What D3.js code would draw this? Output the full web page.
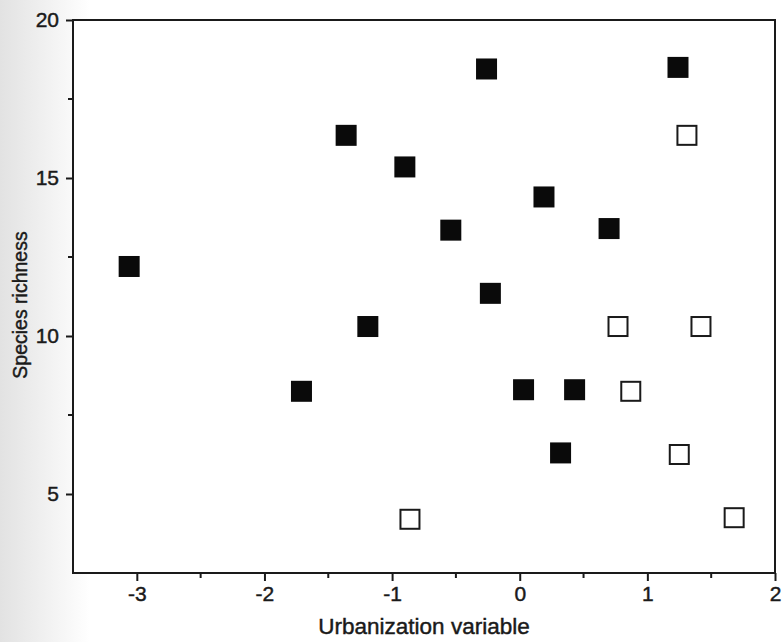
<!DOCTYPE html>
<html>
<head>
<meta charset="utf-8">
<script src="https://cdn.jsdelivr.net/npm/d3@7"></script>
<style>
  body { margin: 0; background: #fff; }
  text { font-family: "Liberation Sans", Arial, sans-serif; fill: #1a1a1a; stroke: #1a1a1a; stroke-width: 0.45px; }
</style>
</head>
<body>
<script>
// chart size
var svg_width = 784;
var svg_height = 642;

// filled squares
var filled_x = [-3.06, -1.71, -1.36, -1.19, -0.9, -0.54, -0.26, -0.23, 0.03, 0.19, 0.32, 0.43, 0.7, 1.24];
var filled_y = [12.2, 8.25, 16.35, 10.3, 15.35, 13.35, 18.45, 11.35, 8.3, 14.4, 6.3, 8.3, 13.4, 18.5];

// open squares
var open_x = [1.31, 0.77, 1.42, 0.87, 1.25, -0.86, 1.68];
var open_y = [16.35, 10.3, 10.3, 8.25, 6.25, 4.2, 4.25];

// tick values
var x_ticks = [-3, -2, -1, 0, 1, 2];
var x_minor = [-2.5, -1.5, -0.5, 0.5, 1.5];
var y_ticks = [5, 10, 15, 20];
var y_minor = [7.5, 12.5, 17.5];

var margin = { left: 73, right: 9, top: 20, bottom: 69 };

const svg = d3.select('body')
    .append('svg')
    .attr("width", svg_width)
    .attr("height", svg_height);

// grey shading of the scanned page on the left
const grad = svg.append('defs').append('linearGradient')
    .attr('id', 'shade').attr('x1', '0').attr('x2', '1');
grad.append('stop').attr('offset', '0').attr('stop-color', '#e2e2e2');
grad.append('stop').attr('offset', '1').attr('stop-color', '#ffffff');
svg.append('rect').attr('width', 90).attr('height', svg_height).attr('fill', 'url(#shade)');

const x = d3.scaleLinear().domain([-3.5, 2]).range([margin.left, svg_width - margin.right]);
const y = d3.scaleLinear().domain([2.5, 20]).range([svg_height - margin.bottom, margin.top]);

// plot area + frame
svg.append('rect')
    .attr('x', x(-3.5)).attr('y', y(20))
    .attr('width', x(2) - x(-3.5)).attr('height', y(2.5) - y(20))
    .attr('fill', '#fff')
    .attr('stroke', '#1a1a1a')
    .attr('stroke-width', 2);

// x axis
const xAxis = svg.append('g')
    .attr('transform', `translate(0,${y(2.5)})`)
    .call(d3.axisBottom(x).tickValues(x_ticks).tickSize(8).tickPadding(5).tickFormat(d => String(d)));
xAxis.append('g').selectAll('line').data(x_minor).join('line')
    .attr('x1', d => x(d)).attr('x2', d => x(d)).attr('y1', 0).attr('y2', 5);

// y axis
const yAxis = svg.append('g')
    .attr('transform', `translate(${x(-3.5)},0)`)
    .call(d3.axisLeft(y).tickValues(y_ticks).tickSize(7).tickPadding(7).tickFormat(d => String(d)));
yAxis.append('g').selectAll('line').data(y_minor).join('line')
    .attr('x1', 0).attr('x2', -5).attr('y1', d => y(d)).attr('y2', d => y(d));

svg.selectAll('.domain').remove();
svg.selectAll('.tick line, g g line').attr('stroke', '#1a1a1a').attr('stroke-width', 2);
svg.selectAll('.tick text').attr('font-size', 21).attr('fill', '#1a1a1a')
    .attr('font-family', '"Liberation Sans", Arial, sans-serif');

// axis titles
svg.append('text')
    .attr('x', (x(-3.5) + x(2)) / 2)
    .attr('y', 634)
    .attr('text-anchor', 'middle')
    .attr('font-size', 22.5)
    .text('Urbanization variable');

svg.append('text')
    .attr('transform', 'translate(27,305) rotate(-90)')
    .attr('text-anchor', 'middle')
    .attr('font-size', 19.5)
    .text('Species richness');

// markers
var s = 21;
const filled = filled_x.map((v, i) => ({ x: v, y: filled_y[i] }));
const open = open_x.map((v, i) => ({ x: v, y: open_y[i] }));

svg.append('g').selectAll('rect').data(filled).join('rect')
    .attr('x', d => x(d.x) - s / 2)
    .attr('y', d => y(d.y) - s / 2)
    .attr('width', s).attr('height', s)
    .attr('fill', '#0a0a0a');

svg.append('g').selectAll('rect').data(open).join('rect')
    .attr('x', d => x(d.x) - (s - 2) / 2)
    .attr('y', d => y(d.y) - (s - 2) / 2)
    .attr('width', s - 2).attr('height', s - 2)
    .attr('fill', '#fff')
    .attr('stroke', '#1a1a1a')
    .attr('stroke-width', 2);
</script>
</body>
</html>
